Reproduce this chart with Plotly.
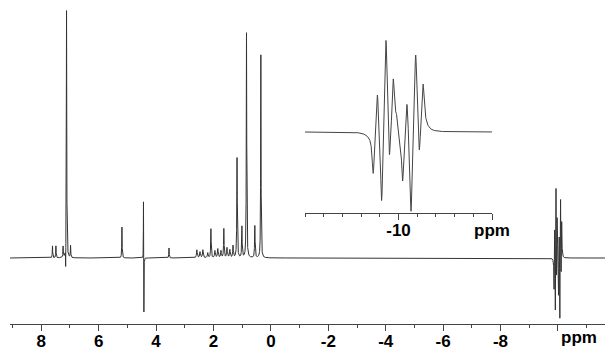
import numpy as np
import plotly.graph_objects as go

# ---- main spectrum lines (ppm, intensity, half-width) ----
main_pos = [7.61, 7.49, 7.24, 7.12, 7.15, 6.98, 5.19, 4.44, 4.425, 3.55,
            2.58, 2.47, 2.37, 2.20, 2.09, 1.95, 1.85, 1.74, 1.64, 1.53,
            1.43, 1.32, 1.18, 1.01, 0.85, 0.56, 0.35]
main_amp = [12, 12, 11, 248, -25, 12, 31, 60, -58, 10,
            8, 6, 8, 5, 29, 7, 9, 7, 29, 10,
            8, 12, 100, 31, 225, 32, 203]
main_hw = [0.008, 0.008, 0.008, 0.008, 0.005, 0.008, 0.008, 0.004, 0.004, 0.008,
           0.015, 0.015, 0.015, 0.015, 0.010, 0.015, 0.015, 0.015, 0.010, 0.015,
           0.015, 0.012, 0.010, 0.010, 0.009, 0.010, 0.008]

# ---- hydride multiplet (shown in main and inset) ----
hyd_pos = [-9.865, -9.874, -9.887, -9.910, -9.919, -9.933, -9.951, -9.972,
           -9.989, -10.003, -10.022, -10.045, -10.067, -10.079, -10.092,
           -10.111, -10.131]
hyd_amp = [-44, 6, 46, -84, 12, 100, -40, 54, 14, -8, -52, 38, -92, 14, 82, -34, 44]
hyd_hw = 0.0072
hyd_tail_pos = [-9.85, -10.14]
hyd_tail_amp = [-4, 7]
hyd_tail_hw = [0.03, 0.02]
main_hyd_scale = 0.76

main_tick_vals = [8, 6, 4, 2, 0, -2, -4, -6, -8, -10]
main_tick_text = ["8", "6", "4", "2", "0", "-2", "-4", "-6", "-8", ""]
main_minor_vals = [9, 7, 5, 3, 1, -1, -3, -5, -7, -9, -11]
main_unit_label = "ppm"
main_unit_pos = -10.75

inset_tick_vals = [-9.5, -10.0, -10.5]
inset_tick_text = ["", "-10", "ppm"]
inset_minor_vals = [round(-9.5 - 0.1 * i, 2) for i in range(11)]


def lor(x, p, a, w):
    return a / (1.0 + ((x - p) / w) ** 2)


def hydride(x, scale=1.0):
    y = np.zeros_like(x)
    for p, a in zip(hyd_pos, hyd_amp):
        y += lor(x, p, a * scale, hyd_hw)
    for p, a, w in zip(hyd_tail_pos, hyd_tail_amp, hyd_tail_hw):
        y += lor(x, p, a * scale, w)
    return y


x_main = np.arange(9.09, -11.64, -0.001)
y_main = np.zeros_like(x_main)
for p, a, w in zip(main_pos, main_amp, main_hw):
    y_main += lor(x_main, p, a, w)
y_main += hydride(x_main, main_hyd_scale)

x_ins = np.arange(-9.5, -10.5005, -0.0005)
y_ins = hydride(x_ins, 1.0)

fig = go.Figure()
fig.add_trace(go.Scatter(x=x_main, y=y_main, mode="lines",
                         line=dict(color="#333333", width=1),
                         xaxis="x", yaxis="y", hoverinfo="skip"))
fig.add_trace(go.Scatter(x=x_ins, y=y_ins, mode="lines",
                         line=dict(color="#444444", width=1),
                         xaxis="x2", yaxis="y2", hoverinfo="skip"))

tickfont = dict(family="Liberation Sans, Arial, sans-serif", size=17,
                color="black", weight="bold")

fig.add_annotation(x=main_unit_pos, xref="x", y=-0.005, yref="paper",
                   yanchor="top", xanchor="center", showarrow=False,
                   text=main_unit_label, font=tickfont)

fig.update_layout(
    width=622, height=356, autosize=False,
    margin=dict(l=10, r=17, t=0, b=32),
    paper_bgcolor="white", plot_bgcolor="rgba(0,0,0,0)",
    showlegend=False,
    xaxis=dict(range=[9.09, -11.64], domain=[0, 1],
               showline=True, linecolor="#444444", linewidth=1,
               ticks="outside", ticklen=6, tickwidth=1, tickcolor="#444444",
               tickmode="array", tickvals=main_tick_vals, ticktext=main_tick_text,
               tickfont=tickfont, ticklabelstandoff=-4,
               showgrid=False, zeroline=False,
               minor=dict(tickmode="array", tickvals=main_minor_vals,
                          ticks="outside", ticklen=3, tickcolor="#444444",
                          showgrid=False),
               anchor="y"),
    yaxis=dict(range=[-66, 258], domain=[0, 1], visible=False, anchor="x"),
    xaxis2=dict(range=[-9.5, -10.5], domain=[0.4958, 0.8101],
                showline=True, linecolor="#444444", linewidth=1,
                ticks="outside", ticklen=6, tickwidth=1, tickcolor="#444444",
                tickmode="array", tickvals=inset_tick_vals, ticktext=inset_tick_text,
                tickfont=tickfont, ticklabelstandoff=-4,
                showgrid=False, zeroline=False,
                minor=dict(tickmode="array", tickvals=inset_minor_vals,
                           ticks="outside", ticklen=3, tickcolor="#444444",
                           showgrid=False),
                anchor="y2"),
    yaxis2=dict(range=[-81, 112], domain=[0.3426, 0.9383], visible=False,
                anchor="x2"),
)

fig.write_html(
    "out.html",
    config={"responsive": False},
    post_script="document.documentElement.style.overflow='hidden';"
                "document.body.style.margin='0';document.body.style.overflow='hidden';",
)
